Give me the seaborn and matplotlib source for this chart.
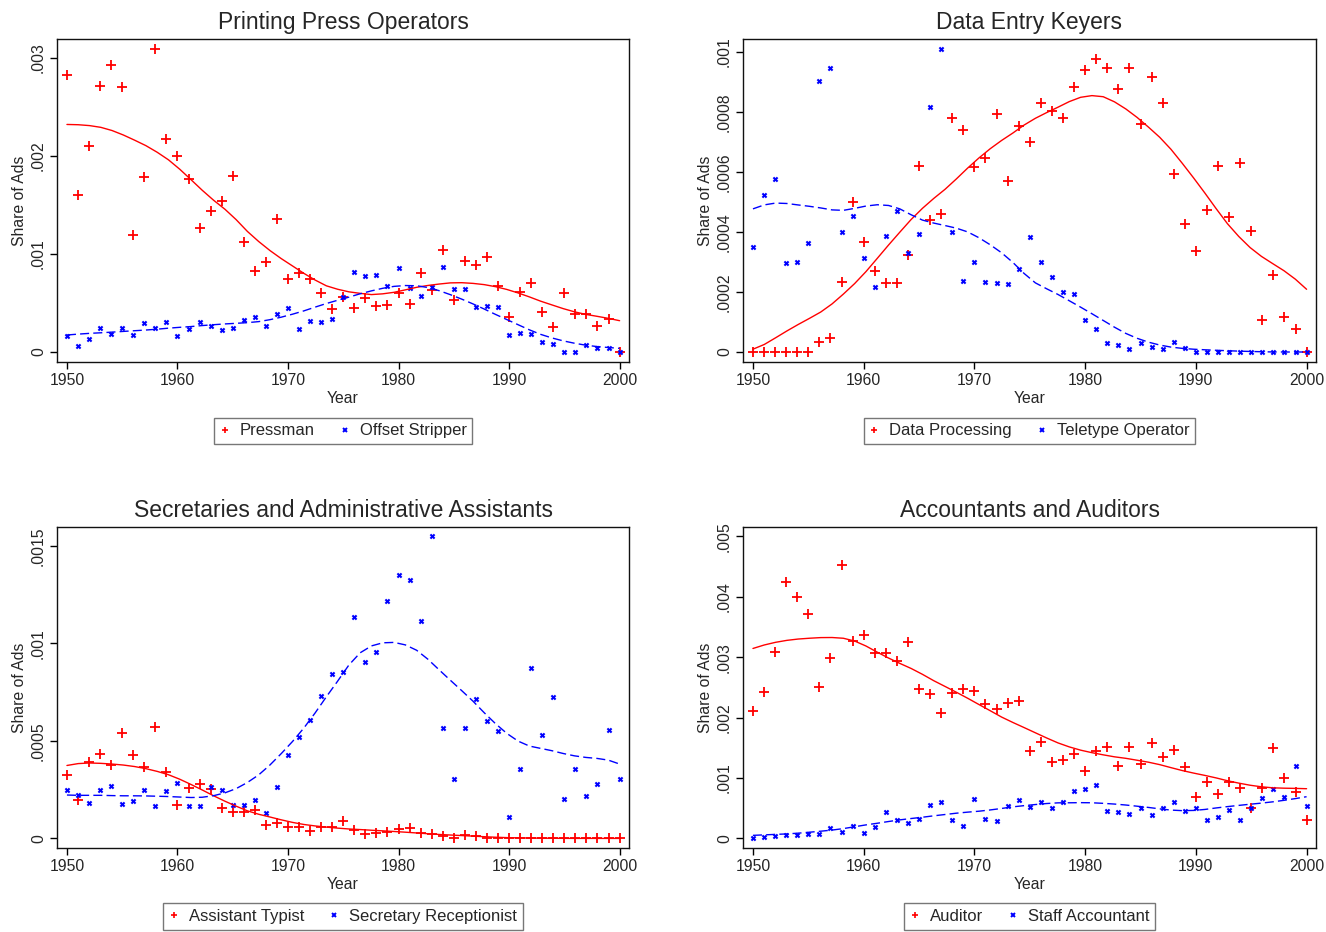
import numpy as np
import pandas as pd
import matplotlib
matplotlib.use("Agg")
import matplotlib.pyplot as plt
import seaborn as sns
from matplotlib.lines import Line2D

# ---------------- data ----------------
years = list(range(1950, 2001))

# Printing Press Operators (units of 1e-3)
pressman = np.array([2.83, 1.605, 2.10, 2.71, 2.93, 2.70, 1.19, 1.79, 3.09, 2.17,
                     2.00, 1.77, 1.265, 1.435, 1.545, 1.80, 1.12, 0.83, 0.92, 1.36,
                     0.75, 0.81, 0.74, 0.60, 0.44, 0.56, 0.45, 0.55, 0.47, 0.48,
                     0.60, 0.49, 0.81, 0.63, 1.04, 0.53, 0.925, 0.885, 0.97, 0.67,
                     0.36, 0.61, 0.70, 0.41, 0.26, 0.605, 0.39, 0.39, 0.27, 0.34,
                     0.0]) * 1e-3
offset_stripper = np.array([0.167, 0.06, 0.136, 0.24, 0.18, 0.24, 0.17, 0.30, 0.245, 0.31,
                            0.167, 0.23, 0.31, 0.27, 0.22, 0.25, 0.33, 0.36, 0.27, 0.39,
                            0.45, 0.23, 0.32, 0.31, 0.34, 0.56, 0.82, 0.78, 0.79, 0.67,
                            0.86, 0.65, 0.575, 0.66, 0.87, 0.64, 0.645, 0.46, 0.47, 0.46,
                            0.17, 0.19, 0.18, 0.10, 0.08, 0.0, 0.0, 0.07, 0.04, 0.04,
                            0.0]) * 1e-3

# Data Entry Keyers (units of 1e-4)
data_processing = np.array([0, 0, 0, 0, 0, 0, 0.32, 0.47, 2.33, 5.01,
                            3.68, 2.70, 2.31, 2.29, 3.22, 6.2, 4.39, 4.6, 7.79, 7.41,
                            6.17, 6.47, 7.93, 5.69, 7.53, 6.99, 8.3, 8.04, 7.81, 8.82,
                            9.41, 9.78, 9.48, 8.76, 9.48, 7.6, 9.17, 8.3, 5.94, 4.28,
                            3.36, 4.74, 6.19, 4.5, 6.3, 4.03, 1.06, 2.57, 1.18, 0.78,
                            0]) * 1e-4
teletype_operator = np.array([3.51, 5.23, 5.77, 2.97, 3.01, 3.62, 9.03, 9.46, 4.0, 4.54,
                              3.12, 2.17, 3.88, 4.71, 3.3, 3.94, 8.16, 10.1, 4.0, 2.36,
                              2.99, 2.34, 2.29, 2.26, 2.77, 3.84, 3.01, 2.51, 2.01, 1.93,
                              1.07, 0.77, 0.30, 0.23, 0.11, 0.30, 0.16, 0.10, 0.32, 0.14,
                              0, 0, 0, 0, 0, 0, 0, 0, 0, 0,
                              0]) * 1e-4

# Secretaries and Administrative Assistants (units of 1e-4)
assistant_typist = np.array([3.23, 1.96, 3.92, 4.32, 3.77, 5.41, 4.30, 3.65, 5.72, 3.41,
                             1.72, 2.61, 2.80, 2.51, 1.55, 1.33, 1.38, 1.48, 0.70, 0.78,
                             0.58, 0.58, 0.36, 0.58, 0.58, 0.87, 0.44, 0.22, 0.27, 0.31,
                             0.49, 0.53, 0.27, 0.22, 0.14, 0.0, 0.15, 0.12, 0.02, 0.02,
                             0, 0, 0, 0, 0, 0, 0, 0, 0, 0,
                             0]) * 1e-4
secretary_receptionist = np.array([2.49, 2.24, 1.81, 2.47, 2.68, 1.74, 1.91, 2.49, 1.66, 2.42,
                                   2.85, 1.64, 1.66, 2.66, 2.47, 1.72, 1.72, 1.95, 1.28, 2.66,
                                   4.27, 5.19, 6.06, 7.30, 8.41, 8.52, 11.38, 9.03, 9.57, 12.17,
                                   13.52, 13.28, 11.14, 15.5, 5.68, 3.04, 5.68, 7.13, 6.01, 5.51,
                                   1.11, 3.57, 8.74, 5.29, 7.27, 2.01, 3.57, 2.17, 2.80, 5.58,
                                   3.07]) * 1e-4

# Accountants and Auditors (units of 1e-3)
auditor = np.array([2.11, 2.43, 3.08, 4.25, 4.00, 3.72, 2.50, 2.99, 4.52, 3.26,
                    3.36, 3.07, 3.07, 2.94, 3.25, 2.47, 2.39, 2.08, 2.41, 2.47,
                    2.44, 2.23, 2.14, 2.24, 2.28, 1.44, 1.59, 1.27, 1.29, 1.40,
                    1.12, 1.45, 1.51, 1.19, 1.51, 1.23, 1.58, 1.35, 1.46, 1.18,
                    0.69, 0.93, 0.73, 0.94, 0.84, 0.50, 0.83, 1.49, 1.00, 0.76,
                    0.30]) * 1e-3
staff_accountant = np.array([0.0, 0.03, 0.04, 0.06, 0.05, 0.07, 0.08, 0.17, 0.10, 0.20,
                             0.09, 0.19, 0.44, 0.30, 0.25, 0.32, 0.56, 0.61, 0.31, 0.21,
                             0.66, 0.32, 0.29, 0.54, 0.63, 0.52, 0.60, 0.51, 0.61, 0.79,
                             0.81, 0.89, 0.46, 0.44, 0.41, 0.50, 0.38, 0.51, 0.61, 0.45,
                             0.50, 0.30, 0.36, 0.47, 0.31, 0.50, 0.67, 0.81, 0.69, 1.19,
                             0.53]) * 1e-3

titles = ["Printing Press Operators", "Data Entry Keyers",
          "Secretaries and Administrative Assistants", "Accountants and Auditors"]
series_names = [("Pressman", "Offset Stripper"),
                ("Data Processing", "Teletype Operator"),
                ("Assistant Typist", "Secretary Receptionist"),
                ("Auditor", "Staff Accountant")]
series_values = [(pressman, offset_stripper),
                 (data_processing, teletype_operator),
                 (assistant_typist, secretary_receptionist),
                 (auditor, staff_accountant)]
ytick_vals = [[0, 0.001, 0.002, 0.003],
              [0, 0.0002, 0.0004, 0.0006, 0.0008, 0.001],
              [0, 0.0005, 0.001, 0.0015],
              [0, 0.001, 0.002, 0.003, 0.004, 0.005]]
ytick_labels = [["0", ".001", ".002", ".003"],
                ["0", ".0002", ".0004", ".0006", ".0008", ".001"],
                ["0", ".0005", ".001", ".0015"],
                ["0", ".001", ".002", ".003", ".004", ".005"]]
xtick_vals = [1950, 1960, 1970, 1980, 1990, 2000]


# ---------------- smoother (local mean, Epanechnikov kernel) ----------------
def kernel_smooth(x, y, halfwidth=8.5, n=50):
    x = np.asarray(x, float)
    y = np.asarray(y, float)
    grid = np.linspace(x.min(), x.max(), n)
    out = []
    for g in grid:
        z = (x - g) / halfwidth
        w = np.where(np.abs(z) < 1, 1 - z ** 2, 0.0)
        out.append(np.sum(w * y) / np.sum(w))
    return grid, np.array(out)


# ---------------- style ----------------
sns.set_style("ticks")
plt.rcParams['font.family'] = ['Liberation Sans', 'DejaVu Sans']
RED = "#ff0000"
BLUE = "#0000ff"

fig = plt.figure(figsize=(13.26, 9.32), dpi=100)
W, H = 1326, 932
rects_px = [(57, 39, 629, 362), (743, 39, 1316, 362),
            (57, 527, 629, 848), (743, 527, 1316, 848)]
ylims = [(-0.000102, 0.003194), (-0.0000333, 0.001043),
         (-0.0000492, 0.0015973), (-0.000159, 0.005154)]

for i in range(4):
    l, t, r, b = rects_px[i]
    ax = fig.add_axes([l / W, 1 - b / H, (r - l) / W, (b - t) / H])
    name_a, name_b = series_names[i]
    vals_a, vals_b = series_values[i]

    df = pd.DataFrame({"Year": years * 2,
                       "Share": np.concatenate([vals_a, vals_b]),
                       "Series": [name_a] * len(years) + [name_b] * len(years)})

    ga, sa = kernel_smooth(years, vals_a)
    gb, sb = kernel_smooth(years, vals_b)
    sm = pd.DataFrame({"Year": np.concatenate([ga, gb]),
                       "Share": np.concatenate([sa, sb]),
                       "Series": [name_a] * len(ga) + [name_b] * len(gb)})

    sns.lineplot(data=sm, x="Year", y="Share", hue="Series", style="Series",
                 palette={name_a: RED, name_b: BLUE},
                 dashes={name_a: "", name_b: (6.5, 3.0)},
                 linewidth=1.0, legend=False, ax=ax, sort=False)

    sns.scatterplot(data=df[df.Series == name_a], x="Year", y="Share",
                    marker="+", color=RED, s=55, linewidth=1.3, ax=ax, legend=False)
    sns.scatterplot(data=df[df.Series == name_b], x="Year", y="Share",
                    marker="x", color=BLUE, s=9, linewidth=1.5, ax=ax, legend=False)

    ax.set_xlim(1949.1, 2000.85)
    ax.set_ylim(*ylims[i])
    ax.set_xticks(xtick_vals)
    ax.set_xticklabels([str(v) for v in xtick_vals])
    ax.set_yticks(ytick_vals[i])
    ax.set_yticklabels(ytick_labels[i], rotation=90, va="center")
    ax.tick_params(axis="both", direction="out", length=5, width=1,
                   labelsize=11.3, color="black", pad=3)
    for sp in ax.spines.values():
        sp.set_visible(True)
        sp.set_color("#111111")
        sp.set_linewidth(1.0)
    ax.set_xlabel("Year", fontsize=11.3, labelpad=2)
    ax.set_ylabel("Share of Ads", fontsize=11.3, labelpad=3)
    ax.set_title(titles[i], fontsize=16.5, pad=7)

    handles = [Line2D([], [], linestyle="none", marker="+", color=RED,
                      markersize=5, markeredgewidth=1.2),
               Line2D([], [], linestyle="none", marker="x", color=BLUE,
                      markersize=2.6, markeredgewidth=1.4)]
    leg = ax.legend(handles, [name_a, name_b], loc="upper center",
                    bbox_to_anchor=(0.5, -0.172), ncol=2, fontsize=12,
                    frameon=True, fancybox=False, handlelength=0.6,
                    handletextpad=0.6, columnspacing=1.5, borderpad=0.35,
                    borderaxespad=0)
    leg.get_frame().set_edgecolor("#555555")
    leg.get_frame().set_linewidth(1.0)

fig.savefig("out.png", dpi=100, facecolor="white")
